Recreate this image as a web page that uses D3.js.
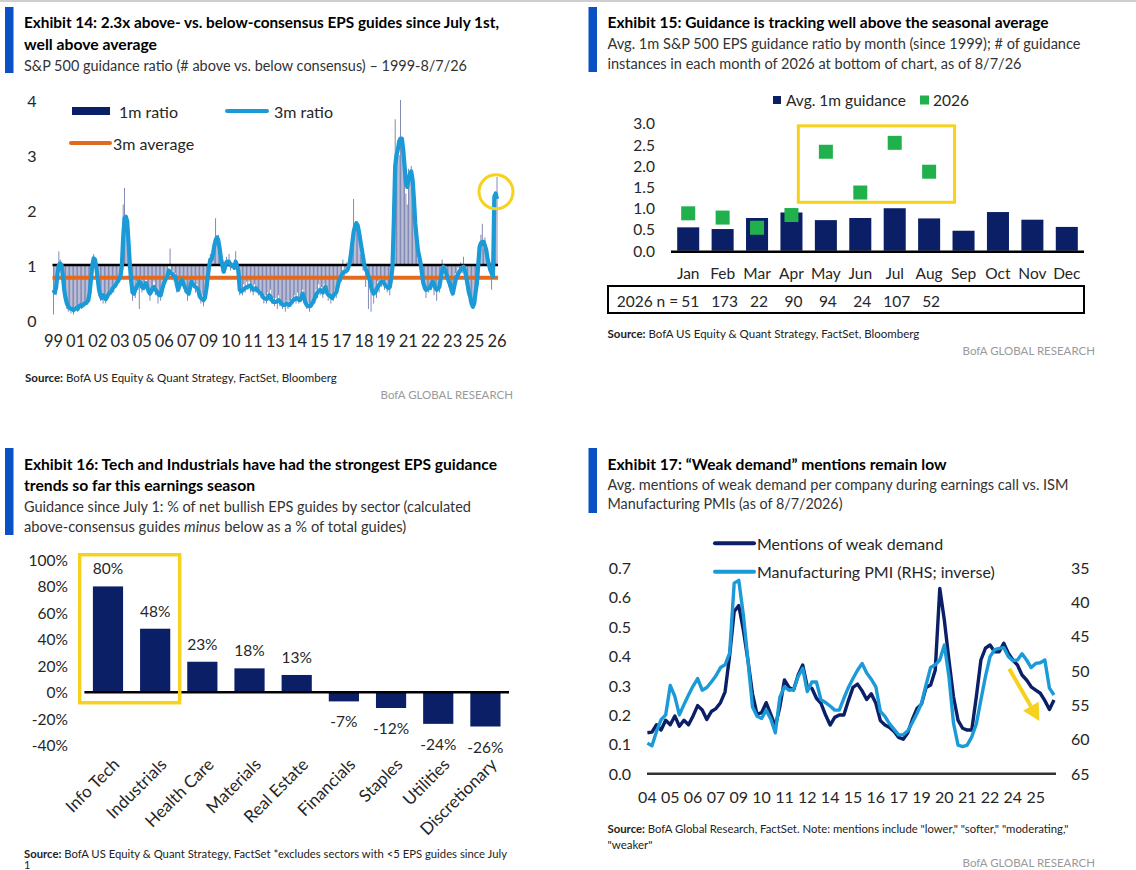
<!DOCTYPE html>
<html><head><meta charset="utf-8">
<script src="https://cdn.jsdelivr.net/npm/d3@7"></script>
<style>
body{margin:0;background:#fff}
svg{display:block}
text{font-family:Lato,"Open Sans",Roboto,sans-serif}
</style>
</head><body>
<svg id="c" width="1136" height="870"></svg>
<script>
// ---------------- DATA ----------------
// Exhibit 14: monthly guidance ratios (1999 - Aug 2026)
const EX14_TICKS = ["99","01","02","03","05","06","07","09","10","11","13","14","15","17","18","19","21","22","23","25","26"];
const RATIO_3M = [
.55,.5,.6,.85,1,1.03,1,.8,.55,.4,
.3,.25,.22,.2,.2,.18,.2,.22,.2,.25,
.27,.25,.27,.3,.3,.33,.36,.5,.75,1,
1.12,1.1,.95,.75,.55,.45,.4,.45,.42,.38,
.42,.47,.5,.52,.57,.6,.62,.67,.7,.75,
.8,.98,1.5,1.85,1.88,1.8,1.4,1,.7,.5,
.48,.55,.6,.65,.7,.68,.6,.58,.62,.67,
.6,.52,.48,.52,.58,.6,.56,.52,.48,.45,
.45,.55,.64,.7,.76,.79,.9,.88,.85,.83,
.8,.79,.65,.55,.62,.7,.73,.66,.6,.55,
.5,.48,.6,.7,.66,.62,.6,.58,.55,.45,
.4,.38,.36,.4,.55,.75,.95,1.1,1.1,1.2,
1.35,1.45,1.5,1.45,1.3,1.12,1,.88,.95,1.05,
1.06,1.06,1,.98,1,.95,1.06,.98,.9,.55,
.52,.54,.56,.58,.6,.6,.62,.63,.58,.55,
.56,.58,.55,.52,.5,.48,.43,.4,.39,.38,
.4,.45,.42,.36,.33,.33,.33,.34,.36,.34,
.3,.28,.27,.28,.3,.28,.27,.3,.34,.36,
.38,.4,.39,.37,.36,.42,.48,.4,.32,.27,
.25,.25,.26,.3,.34,.4,.46,.5,.53,.55,
.52,.5,.55,.6,.5,.46,.45,.42,.4,.45,
.48,.5,.6,.7,.76,.82,.85,.88,.88,.9,
.95,1.03,1.2,1.4,1.6,1.7,1.76,1.72,1.6,1.45,
1.3,1.15,1,.92,.88,.8,.73,.6,.52,.48,
.5,.55,.6,.64,.67,.7,.7,.66,.62,.6,
.58,.6,.75,.97,1.8,2.8,3,3.1,3.25,3.3,
3.3,3.1,2.8,2.5,2.42,2.55,2.65,2.7,2.55,2.2,
1.76,1.5,1.27,1.15,1.03,.85,.67,.6,.55,.56,
.58,.58,.65,.7,.65,.58,.55,.57,.6,.75,
.9,.97,.92,.85,.78,.7,.64,.55,.48,.6,
.72,.79,.84,.88,.92,.95,.97,.9,.79,.65,
.5,.42,.3,.24,.3,.5,.67,1,1.33,1.4,
1.42,1.42,1.35,1.27,1.1,1,.91,.85,.79,2.24,
2.3,2.2];
const RATIO_1M = [
.1,.6,.45,.95,1.25,1.1,.9,.55,.4,.3,
.2,.15,.25,.12,.18,.1,.25,.2,.15,.3,
.22,.2,.3,.25,.35,.28,.4,.55,.9,1.15,
1.2,1.05,.8,.6,.45,.35,.5,.3,.45,.3,
.5,.4,.55,.45,.6,.5,.7,.6,.75,.7,
.85,1.3,2.1,2.4,1.9,1.6,1.1,.7,.5,.35,
.55,.4,.7,.55,.2,.8,.5,.65,.55,.75,
.5,.6,.35,.6,.5,.7,.45,.6,.3,.5,
.35,.65,.55,.8,.7,.85,1,1.3,.8,.9,
.7,.85,.5,.6,.55,.8,.65,.75,.5,.6,
.35,.55,.5,.8,.6,.7,.5,.65,.4,.5,
.3,.45,.25,.45,.6,.85,1.05,1.2,1,1.3,
1.3,1.85,1.4,1.55,1.2,1.1,.85,.95,.85,1.15,
1,1.2,.9,1.05,.95,1.1,1.25,.85,.9,.45,
.6,.45,.65,.5,.7,.55,.7,.5,.65,.45,
.65,.5,.6,.45,.55,.4,.5,.3,.45,.3,
.5,.35,.55,.3,.4,.25,.4,.2,.45,.25,
.35,.2,.3,.15,.35,.2,.35,.25,.4,.3,
.45,.3,.5,.3,.45,.35,.55,.3,.4,.2,
.3,.15,.3,.25,.4,.3,.55,.4,.65,.45,
.6,.4,.65,.5,.55,.35,.5,.3,.45,.35,
.55,.4,.7,.6,.85,.7,1.1,.8,.95,1.05,
.9,1.1,1.3,1.5,2.2,1.6,1.8,1.65,1.5,1.2,
1.35,.9,.95,.6,.75,.2,.65,.15,.45,.3,
.55,.4,.7,.5,.75,.6,.8,.55,.7,.5,
.6,.45,.85,1.15,2.2,3.65,2.6,3.2,3,4.0,
3.1,3.3,2.6,2.3,2.1,2.75,2.5,2.8,2.4,2.0,
1.6,1.4,1.1,1.2,.9,.8,.55,.65,.4,.6,
.5,.65,.55,.8,.45,.65,.35,.6,.5,.85,
1.1,.9,1,.75,.85,.6,.7,.45,.5,.55,
.85,.7,.95,.8,1.05,.85,1.15,.8,.85,.55,
.6,.35,.4,.2,.35,.45,.75,1.1,1.3,1.55,
1.75,1.3,1.5,1.15,1.2,.9,1.05,.55,.85,2.3,
2.1,2.6];
const AVG_3M = 0.77;
const EX14_Y_TICKS = [0,1,2,3,4];

// Exhibit 15
const MONTHS = ["Jan","Feb","Mar","Apr","May","Jun","Jul","Aug","Sep","Oct","Nov","Dec"];
const AVG_1M_BY_MONTH = [0.55,0.51,0.77,0.9,0.72,0.77,1.0,0.76,0.47,0.91,0.73,0.56];
const RATIO_2026 = [0.88,0.78,0.54,0.84,2.33,1.37,2.54,1.86];
const N_2026 = [51,173,22,90,94,24,107,52];
const EX15_Y_TICKS = [0,0.5,1,1.5,2,2.5,3];

// Exhibit 16
const SECTORS = ["Info Tech","Industrials","Health Care","Materials","Real Estate","Financials","Staples","Utilities","Discretionary"];
const NET_BULLISH = [80,48,23,18,13,-7,-12,-24,-26];
const EX16_Y_TICKS = [-40,-20,0,20,40,60,80,100];

// Exhibit 17 (quarterly, 2004 - 2026)
const EX17_TICKS = ["04","05","06","07","09","10","11","12","14","15","16","17","19","20","21","22","24","25"];
const WEAK_DEMAND = [
.138,.14,.165,.147,.18,.165,.195,.16,.18,.165,
.195,.23,.215,.183,.21,.22,.24,.277,.4,.55,
.57,.487,.385,.27,.2,.206,.24,.2,.16,.226,
.317,.292,.283,.334,.368,.294,.289,.255,.238,.198,
.164,.19,.198,.198,.247,.292,.303,.28,.251,.27,
.238,.179,.164,.156,.142,.122,.116,.138,.183,.22,
.235,.292,.3,.35,.628,.52,.385,.26,.18,.153,
.147,.147,.26,.385,.425,.436,.413,.413,.442,.408,
.385,.368,.334,.317,.294,.283,.272,.247,.217,.249];
const ISM_PMI = [
60.6,61.0,58.9,57.2,56.5,52.2,53.8,56.5,55.0,53.6,
52.3,51.2,52.9,52.5,51.7,50.8,49.6,49.2,47.5,37.3,
36.9,41.9,48.5,55.3,56.7,57.0,55.8,57.1,59.1,53.9,
52.4,52.9,52.8,50.9,49.7,53.1,51.7,51.7,54.3,54.7,
55.2,55.8,55.8,54.1,52.5,51.2,50.0,49.0,50.4,51.3,
52.4,56.0,56.7,57.8,58.6,59.4,59.4,58.8,57.6,56.3,
54.8,52.1,49.6,49.2,48.5,46.3,50.9,57.7,60.9,61.1,
60.9,59.7,57.8,54.3,50.9,48.0,47.0,46.8,46.7,48.0,
48.6,48.5,47.6,48.5,49.6,49.0,48.9,48.5,52.6,53.6];
const EX17_YL_TICKS = [0,0.1,0.2,0.3,0.4,0.5,0.6,0.7];
const EX17_YR_TICKS = [35,40,45,50,55,60,65];

// ---------------- STYLE ----------------
const NAVY = "#0b1f67", LBLUE = "#1b9ad8", ORANGE = "#e4691d", YELLOW = "#f6d21e",
      GREEN = "#20b14c", ACCENT = "#0a52c4", GRAY = "#9a9a9a";

const svg = d3.select("#c");
svg.append("rect").attr("width",1136).attr("height",870).attr("fill","#fff");
svg.append("rect").attr("x",0).attr("y",0).attr("width",1136).attr("height",2).attr("fill","#cfcfcf");

function txt(g, s, x, y, o = {}) {
  const t = g.append("text").attr("x", x).attr("y", y)
    .attr("dominant-baseline", "central")
    .attr("font-size", o.size || 15).attr("fill", o.fill || "#262626")
    .attr("text-anchor", o.anchor || "start")
    .attr("font-weight", o.weight || 400);
  if (o.family) t.attr("font-family", o.family);
  t.text(s);
  if (o.width) t.attr("textLength", o.width).attr("lengthAdjust", "spacingAndGlyphs");
  return t;
}
function header(x, barY0, barY1, lines) {
  svg.append("rect").attr("x", x - 19).attr("y", barY0).attr("width", 8.5).attr("height", barY1 - barY0).attr("fill", ACCENT);
  lines.forEach(l => {
    txt(svg, l.s, x, l.y, {size: l.bold ? 16 : 15.5, weight: l.bold ? 700 : 400,
      fill: l.bold ? "#000" : "#333", width: l.w,
      family: l.bold ? "Roboto, 'Open Sans', sans-serif" : null});
  });
}
function source(x, y, rest, w) {
  const t = svg.append("text").attr("x", x).attr("y", y).attr("dominant-baseline", "central")
    .attr("font-size", 11.5).attr("fill", "#222");
  t.append("tspan").attr("font-weight", 700).text("Source:");
  t.append("tspan").text(" " + rest);
  if (w) t.attr("textLength", w).attr("lengthAdjust", "spacingAndGlyphs");
  return t;
}
function brand(xRight, y) {
  txt(svg, "BofA GLOBAL RESEARCH", xRight, y, {size: 11.5, fill: GRAY, anchor: "end"});
}

// ================= EXHIBIT 14 =================
header(24, 7, 73, [
  {s: "Exhibit 14: 2.3x above- vs. below-consensus EPS guides since July 1st,", y: 21.5, bold: true, w: 475},
  {s: "well above average", y: 43, bold: true, w: 133},
  {s: "S&P 500 guidance ratio (# above vs. below consensus) \u2013 1999-8/7/26", y: 65, w: 443}
]);
{
  const g = svg.append("g");
  const N = RATIO_1M.length;
  const x = d3.scaleLinear().domain([0, N - 1]).range([53.5, 497]);
  const y = d3.scaleLinear().domain([0, 4]).range([320, 100]);
  const bw = (x(1) - x(0)) * 0.62;

  g.selectAll("rect.b").data(RATIO_1M).join("rect")
    .attr("x", (d, i) => x(i) - bw / 2)
    .attr("y", d => Math.min(y(d), y(1)))
    .attr("width", bw)
    .attr("height", d => Math.abs(y(d) - y(1)))
    .attr("fill", "#1e2b78").attr("opacity", 0.66);

  g.append("line").attr("x1", x(0) - 1).attr("x2", x(N - 1) + 1).attr("y1", y(1)).attr("y2", y(1))
    .attr("stroke", "#000").attr("stroke-width", 2.5);
  g.append("line").attr("x1", x(0) - 1).attr("x2", x(N - 1) + 1).attr("y1", y(AVG_3M)).attr("y2", y(AVG_3M))
    .attr("stroke", ORANGE).attr("stroke-width", 4);
  g.append("path").datum(RATIO_3M)
    .attr("d", d3.line().x((d, i) => x(i)).y(d => y(d)))
    .attr("fill", "none").attr("stroke", LBLUE).attr("stroke-width", 4.2).attr("stroke-linejoin", "round");

  // axes labels
  EX14_Y_TICKS.forEach(v => txt(g, v, 32, y(v), {size: 16, anchor: "middle"}));
  const tx = d3.scaleLinear().domain([0, EX14_TICKS.length - 1]).range([x(0), x(N - 1)]);
  EX14_TICKS.forEach((s, i) => txt(g, s, tx(i), 341, {size: 16.5, anchor: "middle"}));

  // highlight circle on the latest reading
  g.append("circle").attr("cx", x(N - 1) - 1).attr("cy", y(RATIO_3M[N - 1] + 0.13)).attr("r", 17)
    .attr("fill", "none").attr("stroke", YELLOW).attr("stroke-width", 3);

  // legend
  g.append("rect").attr("x", 72).attr("y", 107).attr("width", 38).attr("height", 8).attr("fill", NAVY);
  txt(g, "1m ratio", 119, 111, {size: 16});
  g.append("line").attr("x1", 227).attr("x2", 267).attr("y1", 111).attr("y2", 111).attr("stroke", LBLUE).attr("stroke-width", 4).attr("stroke-linecap", "round");
  txt(g, "3m ratio", 274, 111, {size: 16});
  g.append("line").attr("x1", 71).attr("x2", 110).attr("y1", 143).attr("y2", 143).attr("stroke", ORANGE).attr("stroke-width", 4).attr("stroke-linecap", "round");
  txt(g, "3m average", 113, 143, {size: 16});
}
source(25, 377, "BofA US Equity & Quant Strategy, FactSet, Bloomberg");
brand(513, 394);

// ================= EXHIBIT 15 =================
header(607.5, 7, 72, [
  {s: "Exhibit 15: Guidance is tracking well above the seasonal average", y: 21.5, bold: true, w: 441},
  {s: "Avg. 1m S&P 500 EPS guidance ratio by month (since 1999); # of guidance", y: 43, w: 473},
  {s: "instances in each month of 2026 at bottom of chart, as of 8/7/26", y: 62.5, w: 414}
]);
{
  const g = svg.append("g");
  const x = d3.scaleBand().domain(MONTHS).range([671, 1084]).paddingInner(0.36).paddingOuter(0.18);
  const y = d3.scaleLinear().domain([0, 3]).range([250.7, 123.3]);
  const bw = x.bandwidth();

  g.selectAll("rect.bar").data(AVG_1M_BY_MONTH).join("rect")
    .attr("x", (d, i) => x(MONTHS[i])).attr("y", d => y(d))
    .attr("width", bw).attr("height", d => y(0) - y(d)).attr("fill", NAVY);

  g.append("line").attr("x1", 671).attr("x2", 1084).attr("y1", y(0) + 1).attr("y2", y(0) + 1)
    .attr("stroke", "#000").attr("stroke-width", 2.5);

  const sq = 14;
  g.selectAll("rect.sq").data(RATIO_2026).join("rect")
    .attr("x", (d, i) => x(MONTHS[i]) + bw / 2 - sq / 2).attr("y", d => y(d) - sq / 2)
    .attr("width", sq).attr("height", sq).attr("fill", GREEN);

  // highlight box May-Aug
  const step = x.step();
  const bx0 = x("May") - step * 0.48, bx1 = x("Aug") + bw + step * 0.42;
  g.append("rect").attr("x", bx0).attr("y", y(2.94)).attr("width", bx1 - bx0).attr("height", y(1.14) - y(2.94))
    .attr("fill", "none").attr("stroke", YELLOW).attr("stroke-width", 3);

  EX15_Y_TICKS.forEach(v => txt(g, d3.format(".1f")(v), 655, y(v), {size: 15.5, anchor: "end"}));
  MONTHS.forEach(m => txt(g, m, x(m) + bw / 2, 273, {size: 15.5, anchor: "middle"}));

  // n row
  g.append("rect").attr("x", 608).attr("y", 286).attr("width", 476).attr("height", 27)
    .attr("fill", "none").attr("stroke", "#000").attr("stroke-width", 2);
  txt(g, "2026 n =", x("Jan") + bw / 2 - 10, 301, {size: 15.5, anchor: "end"});
  N_2026.forEach((n, i) => txt(g, n, x(MONTHS[i]) + bw / 2 + 2, 301, {size: 15.5, anchor: "middle"}));

  // legend
  g.append("rect").attr("x", 773).attr("y", 96).attr("width", 8).attr("height", 8).attr("fill", NAVY);
  txt(g, "Avg. 1m guidance", 786, 100, {size: 15.5});
  g.append("rect").attr("x", 920).attr("y", 95.5).attr("width", 9).attr("height", 9).attr("fill", GREEN);
  txt(g, "2026", 933, 100, {size: 15.5});
}
source(607.5, 333, "BofA US Equity & Quant Strategy, FactSet, Bloomberg");
brand(1095, 350);

// ================= EXHIBIT 16 =================
header(24, 448, 535, [
  {s: "Exhibit 16: Tech and Industrials have had the strongest EPS guidance", y: 463.5, bold: true, w: 473},
  {s: "trends so far this earnings season", y: 484.5, bold: true, w: 231},
  {s: "Guidance since July 1: % of net bullish EPS guides by sector (calculated", y: 505.5, w: 447}
]);
{
  const t = svg.append("text").attr("x", 24).attr("y", 526).attr("dominant-baseline", "central")
    .attr("font-size", 14.7).attr("fill", "#333");
  t.append("tspan").text("above-consensus guides ");
  t.append("tspan").attr("font-style", "italic").text("minus");
  t.append("tspan").text(" below as a % of total guides)");
}
{
  const g = svg.append("g");
  const x = d3.scaleBand().domain(SECTORS).range([84.4, 509]).paddingInner(0.36).paddingOuter(0.18);
  const y = d3.scaleLinear().domain([-40, 100]).range([745, 560]);
  const bw = x.bandwidth();

  g.selectAll("rect.bar").data(NET_BULLISH).join("rect")
    .attr("x", (d, i) => x(SECTORS[i])).attr("y", d => y(Math.max(0, d)))
    .attr("width", bw).attr("height", d => Math.abs(y(d) - y(0))).attr("fill", NAVY);

  g.append("line").attr("x1", 84.4).attr("x2", 509).attr("y1", y(0)).attr("y2", y(0))
    .attr("stroke", "#000").attr("stroke-width", 2.5);

  NET_BULLISH.forEach((v, i) => {
    txt(g, v + "%", x(SECTORS[i]) + bw / 2, v >= 0 ? y(v) - 18 : y(v) + 20, {size: 15.5, anchor: "middle"});
  });
  EX16_Y_TICKS.forEach(v => txt(g, v + "%", 68, y(v), {size: 15.5, anchor: "end"}));

  SECTORS.forEach(s => {
    const cx = x(s) + bw / 2 + 8, cy = 761;
    g.append("text").attr("x", cx).attr("y", cy).attr("text-anchor", "end")
      .attr("dominant-baseline", "central").attr("font-size", 17).attr("fill", "#262626")
      .attr("transform", `rotate(-45 ${cx} ${cy})`).text(s);
  });

  // highlight box
  const step = x.step();
  const bx0 = x("Info Tech") - step * 0.28, bx1 = x("Industrials") + bw + step * 0.2;
  g.append("rect").attr("x", bx0).attr("y", y(104)).attr("width", bx1 - bx0).attr("height", y(-8) - y(104))
    .attr("fill", "none").attr("stroke", YELLOW).attr("stroke-width", 3.5);
}
source(24, 853, "BofA US Equity & Quant Strategy, FactSet *excludes sectors with <5 EPS guides since July", 483);
txt(svg, "1", 24, 864, {size: 11, fill: "#222"});

// ================= EXHIBIT 17 =================
header(607.5, 448, 513, [
  {s: "Exhibit 17: \u201cWeak demand\u201d mentions remain low", y: 463.5, bold: true, w: 339},
  {s: "Avg. mentions of weak demand per company during earnings call vs. ISM", y: 483.5, w: 461},
  {s: "Manufacturing PMIs (as of 8/7/2026)", y: 503, w: 235}
]);
{
  const g = svg.append("g");
  const n = WEAK_DEMAND.length;
  const x = d3.scaleLinear().domain([0, n - 1]).range([647.4, 1054]);
  const yL = d3.scaleLinear().domain([0, 0.7]).range([773.3, 567.3]);
  const yR = d3.scaleLinear().domain([65, 35]).range([773.3, 567.3]);

  g.append("line").attr("x1", 647).attr("x2", 1056).attr("y1", yL(0) + 0.5).attr("y2", yL(0) + 0.5)
    .attr("stroke", "#333").attr("stroke-width", 2.5);

  g.append("path").datum(WEAK_DEMAND)
    .attr("d", d3.line().x((d, i) => x(i)).y(d => yL(d)))
    .attr("fill", "none").attr("stroke", NAVY).attr("stroke-width", 3.4).attr("stroke-linejoin", "round");
  g.append("path").datum(ISM_PMI)
    .attr("d", d3.line().x((d, i) => x(i)).y(d => yR(d)))
    .attr("fill", "none").attr("stroke", LBLUE).attr("stroke-width", 3.4).attr("stroke-linejoin", "round");

  EX17_YL_TICKS.forEach(v => txt(g, d3.format(".1f")(v), 631, yL(v), {size: 16, anchor: "end"}));
  EX17_YR_TICKS.forEach(v => txt(g, v, 1071, yR(v), {size: 16}));
  EX17_TICKS.forEach((s, i) => txt(g, s, x(i * 5), 796, {size: 16, anchor: "middle"}));

  // legend
  g.append("line").attr("x1", 715).attr("x2", 754).attr("y1", 543.3).attr("y2", 543.3).attr("stroke", NAVY).attr("stroke-width", 4).attr("stroke-linecap", "round");
  txt(g, "Mentions of weak demand", 757, 543.3, {size: 16});
  g.append("line").attr("x1", 715).attr("x2", 754).attr("y1", 571.7).attr("y2", 571.7).attr("stroke", LBLUE).attr("stroke-width", 4).attr("stroke-linecap", "round");
  txt(g, "Manufacturing PMI (RHS; inverse)", 757, 571.7, {size: 16});

  // arrow annotation
  const ax0 = x(79.2), ay0 = yL(0.355), ax1 = x(85.8), ay1 = yL(0.178);
  const ang = Math.atan2(ay1 - ay0, ax1 - ax0);
  const hl = 17, hw = 9;
  const bxp = ax1 - hl * Math.cos(ang), byp = ay1 - hl * Math.sin(ang);
  g.append("line").attr("x1", ax0).attr("y1", ay0).attr("x2", bxp).attr("y2", byp)
    .attr("stroke", YELLOW).attr("stroke-width", 4);
  g.append("path").attr("d", `M${ax1},${ay1} L${bxp + hw * Math.sin(ang)},${byp - hw * Math.cos(ang)} L${bxp - hw * Math.sin(ang)},${byp + hw * Math.cos(ang)} Z`)
    .attr("fill", YELLOW);
}
source(607.5, 827.5, "BofA Global Research, FactSet. Note: mentions include \"lower,\" \"softer,\" \"moderating,\"", 461);
txt(svg, "\"weaker\"", 607.5, 844.5, {size: 11.5, fill: "#222"});
brand(1095, 862);
</script>
</body></html>
